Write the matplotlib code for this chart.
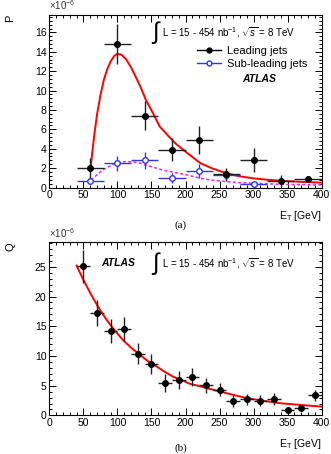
import matplotlib
matplotlib.use("Agg")
import matplotlib.pyplot as plt
from matplotlib.ticker import MultipleLocator
from matplotlib.lines import Line2D

plt.rcParams['font.family'] = ['Liberation Sans', 'DejaVu Sans']
plt.rcParams['mathtext.fontset'] = 'custom'
plt.rcParams['mathtext.rm'] = 'Liberation Sans'
plt.rcParams['mathtext.it'] = 'Liberation Sans:italic'

# panel (a): P vs E_T
et_a = [60, 100, 140, 180, 220, 260, 300, 340, 380]
lead_p = [2.0, 14.8, 7.4, 3.9, 4.9, 1.35, 2.85, 0.65, 0.88]
lead_err = [1.0, 2.1, 1.5, 1.2, 1.4, 0.7, 1.2, 0.6, 0.35]
sub_et = [60, 100, 140, 180, 220, 260, 300]
sub_p = [0.65, 2.5, 2.8, 0.95, 1.7, 1.3, 0.4]
sub_err = [0.3, 0.8, 0.9, 0.5, 0.7, 0.5, 0.2]

fit_lead_x = [61, 63, 66, 70, 75, 80, 85, 90, 95, 100, 106, 113, 120, 127, 135, 142, 152, 162, 175, 186, 200, 222, 240, 261, 280, 300, 320, 339, 370, 400]
fit_lead_y = [2.2, 3.6, 5.4, 7.5, 9.5, 11.1, 12.2, 13.0, 13.55, 13.8, 13.7, 13.2, 12.4, 11.4, 10.2, 9.0, 7.7, 6.3, 5.3, 4.5, 3.7, 2.5, 1.95, 1.45, 1.15, 0.94, 0.8, 0.7, 0.58, 0.5]
fit_sub_x = [61, 70, 78, 90, 100, 110, 122, 132, 142, 155, 166, 180, 192, 205, 222, 240, 261, 280, 300, 339, 370, 400]
fit_sub_y = [0.77, 1.3, 1.8, 2.25, 2.55, 2.65, 2.66, 2.55, 2.3, 2.05, 1.8, 1.6, 1.45, 1.25, 0.95, 0.75, 0.6, 0.5, 0.43, 0.33, 0.29, 0.26]

# panel (b): Q vs E_T
et_b = [50, 70, 90, 110, 130, 150, 170, 190, 210, 230, 250, 270, 290, 310, 330, 350, 370, 390]
q_val = [25.1, 17.2, 14.2, 14.6, 10.4, 8.7, 5.5, 6.0, 6.5, 5.05, 4.3, 2.4, 2.7, 2.5, 2.7, 0.85, 1.25, 3.35]
q_err = [2.8, 2.2, 2.0, 2.0, 1.7, 1.7, 1.5, 1.5, 1.5, 1.2, 1.1, 1.0, 0.9, 0.9, 1.0, 0.5, 0.4, 0.9]

fit_q_x = [40, 50, 60, 72, 84, 96, 108, 120, 133, 145, 158, 170, 182, 195, 207, 225, 241, 265, 290, 315, 339, 370, 400]
fit_q_y = [25.2, 22.8, 20.6, 18.2, 16.1, 14.3, 12.7, 11.4, 10.2, 9.1, 8.2, 7.3, 6.5, 5.9, 5.3, 4.8, 4.3, 3.6, 2.9, 2.45, 2.05, 1.75, 1.48]

lumi = "L = 15 - 454 nb$^{-1}$, $\\sqrt{s}$ = 8 TeV"

fig = plt.figure(figsize=(3.31, 4.54), dpi=100)
ax1 = fig.add_axes([0.149, 0.587, 0.823, 0.380])
ax2 = fig.add_axes([0.149, 0.085, 0.823, 0.381])


def style(ax, ymax, ymaj, ymin):
    ax.set_xlim(0, 400)
    ax.set_ylim(0, ymax)
    ax.xaxis.set_major_locator(MultipleLocator(50))
    ax.xaxis.set_minor_locator(MultipleLocator(10))
    ax.yaxis.set_major_locator(MultipleLocator(ymaj))
    ax.yaxis.set_minor_locator(MultipleLocator(ymin))
    ax.tick_params(which='both', direction='in', top=True, right=True,
                   labelsize=7.5, width=0.7, pad=2)
    ax.tick_params(which='major', length=5)
    ax.tick_params(which='minor', length=2.5)
    for s in ax.spines.values():
        s.set_linewidth(0.8)
    ax.text(0.0, 1.015, r"$\times$10$^{-6}$", transform=ax.transAxes,
            fontsize=7, ha='left', va='bottom', color='#333333')
    ax.set_xlabel("E$_\\mathrm{T}$ [GeV]", fontsize=7.5, loc='right', labelpad=6)


# panel (a)
style(ax1, 17.8, 2, 0.4)
ax1.plot(fit_lead_x, fit_lead_y, color='red', lw=1.4, zorder=2)
ax1.plot(fit_sub_x, fit_sub_y, color='#ee22ee', lw=1.1, ls=(0, (2, 1.5)), zorder=2)
ax1.errorbar(sub_et, sub_p, xerr=20, yerr=sub_err, fmt='o', ms=4, mfc='white',
             mec='#3333ff', ecolor='#3333ff', elinewidth=1.0, capsize=0, mew=1.0, zorder=3)
ax1.errorbar(et_a, lead_p, xerr=20, yerr=lead_err, fmt='o', ms=4, color='black',
             ecolor='#222222', elinewidth=1.0, capsize=0, zorder=4)
ax1.set_ylabel("P", fontsize=8, loc='top', labelpad=14)
ax1.text(0.378, 0.9, "\u222b", transform=ax1.transAxes, fontsize=17, ha='left', va='center')
ax1.text(0.415, 0.9, lumi, transform=ax1.transAxes, fontsize=7, ha='left', va='center')
h1 = Line2D([], [], color='black', marker='o', ms=3.5, lw=1.0)
h2 = Line2D([], [], color='#3333ff', marker='o', ms=3.5, mfc='white', lw=1.0)
ax1.legend([h1, h2], ["Leading jets", "Sub-leading jets"], loc='upper right',
           bbox_to_anchor=(0.975, 0.865), frameon=False, fontsize=8,
           handlelength=2.2, handletextpad=0.5, labelspacing=0.3, borderpad=0.2)
ax1.text(0.77, 0.63, "ATLAS", transform=ax1.transAxes, fontsize=7.5,
         fontweight='bold', fontstyle='italic', ha='center', va='center')
fig.text(0.545, 0.505, "(a)", fontsize=8, ha='center', va='center', family='Liberation Serif')

# panel (b)
style(ax2, 29.1, 5, 1)
ax2.plot(fit_q_x, fit_q_y, color='red', lw=1.4, zorder=2)
ax2.errorbar(et_b, q_val, xerr=10, yerr=q_err, fmt='o', ms=4, color='black',
             ecolor='#222222', elinewidth=1.0, capsize=0, zorder=4)
ax2.set_ylabel("Q", fontsize=8, loc='top', labelpad=14)
ax2.text(0.19, 0.88, "ATLAS", transform=ax2.transAxes, fontsize=7.5,
         fontweight='bold', fontstyle='italic', ha='left', va='center')
ax2.text(0.378, 0.88, "\u222b", transform=ax2.transAxes, fontsize=17, ha='left', va='center')
ax2.text(0.415, 0.88, lumi, transform=ax2.transAxes, fontsize=7, ha='left', va='center')
fig.text(0.545, 0.012, "(b)", fontsize=8, ha='center', va='center', family='Liberation Serif')

fig.savefig("out.png", dpi=100)
